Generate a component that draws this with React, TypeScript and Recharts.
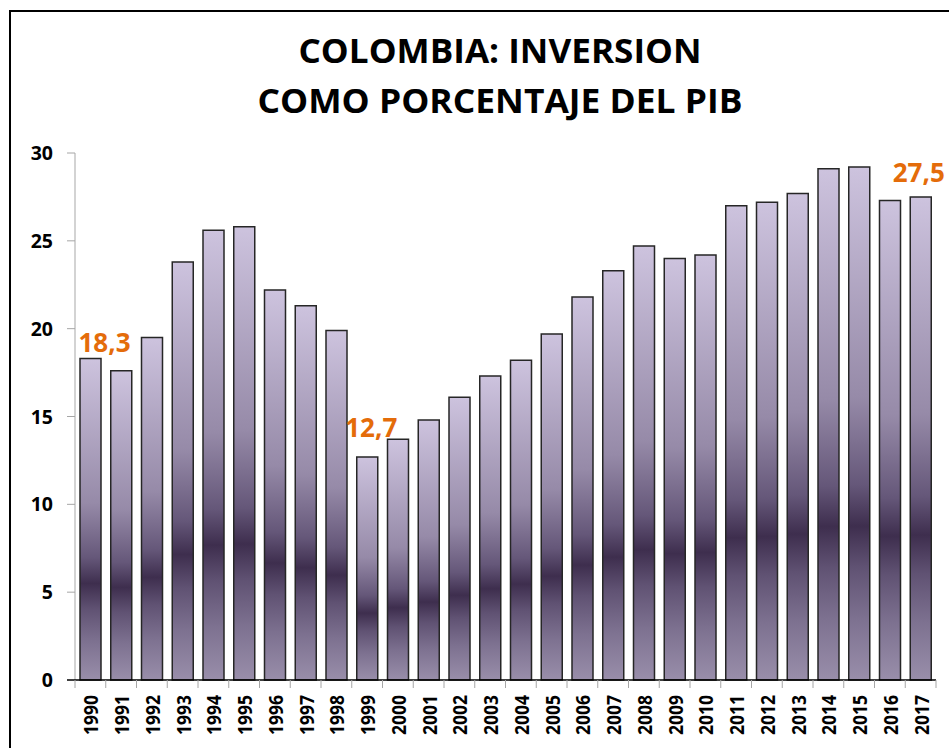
import { BarChart, Bar, XAxis, YAxis, LabelList } from 'recharts'

const years = [
  '1990', '1991', '1992', '1993', '1994', '1995', '1996', '1997', '1998', '1999',
  '2000', '2001', '2002', '2003', '2004', '2005', '2006', '2007', '2008', '2009',
  '2010', '2011', '2012', '2013', '2014', '2015', '2016', '2017',
]
const inversion = [
  18.3, 17.6, 19.5, 23.8, 25.6, 25.8, 22.2, 21.3, 19.9, 12.7,
  13.7, 14.8, 16.1, 17.3, 18.2, 19.7, 21.8, 23.3, 24.7, 24.0,
  24.2, 27.0, 27.2, 27.7, 29.1, 29.2, 27.3, 27.5,
]
const yTicks = [0, 5, 10, 15, 20, 25, 30]
const labelledYears = ['1990', '1999', '2017']

const data = years.map((y, i) => ({ year: y, valor: inversion[i] }))

const W = 949
const H = 748
const PLOT_LEFT = 75
const PLOT_RIGHT = 936
const PLOT_TOP = 153
const PLOT_BOTTOM = 680
const BAND = (PLOT_RIGHT - PLOT_LEFT) / years.length
const FONT = '"Open Sans", "Liberation Sans", sans-serif'
const ORANGE = '#E46C0A'

// nudges for the value labels (label placement in the original is hand-tuned)
const labelNudge: Record<string, [number, number]> = {
  '1990': [14, -7],
  '1999': [4, -20],
  '2017': [-2, -15],
}

const YTick = (props: any) => {
  const { y, payload } = props
  const isZero = payload.value === 0
  return (
    <g>
      <line x1={PLOT_LEFT - 8} x2={PLOT_LEFT} y1={y} y2={y}
        stroke={isZero ? '#000' : '#a6a6a6'} strokeWidth={isZero ? 1.5 : 1} />
      <text x={53} y={y} dy="0.36em" textAnchor="end" fontSize={19.5} fontWeight={700}
        fill="#000" fontFamily={FONT}>{payload.value}</text>
    </g>
  )
}

const XTick = (props: any) => {
  const { x, payload, index } = props
  const left = x - BAND / 2
  const right = x + BAND / 2
  const ty = PLOT_BOTTOM + 15
  return (
    <g>
      <line x1={left} x2={left} y1={PLOT_BOTTOM} y2={PLOT_BOTTOM + 8} stroke="#a6a6a6" />
      {index === years.length - 1 && (
        <line x1={right} x2={right} y1={PLOT_BOTTOM} y2={PLOT_BOTTOM + 8} stroke="#a6a6a6" />
      )}
      <text transform={`translate(${x + 1},${ty}) rotate(-90)`} textAnchor="end"
        dominantBaseline="central" fontSize={19} fontWeight={700} fill="#000"
        fontFamily={FONT} textLength={40} lengthAdjust="spacingAndGlyphs">
        {payload.value}
      </text>
    </g>
  )
}

const ValueLabel = (props: any) => {
  const { x, y, width, value, index } = props
  const yr = years[index]
  if (!labelledYears.includes(yr)) return null
  const [dx, dy] = labelNudge[yr] || [0, -8]
  return (
    <text x={x + width / 2 + dx} y={y + dy} textAnchor="middle" fontSize={26}
      fontWeight={700} fill={ORANGE} fontFamily={FONT}>
      {Number(value).toFixed(1).replace('.', ',')}
    </text>
  )
}

export default function App() {
  return (
    <div style={{ position: 'absolute', left: 0, top: 0, width: W, height: H, background: '#fff', fontFamily: FONT, overflow: 'hidden' }}>
      {/* marco */}
      <div style={{ position: 'absolute', left: 9, top: 10, right: -10, bottom: -10, borderTop: '2px solid #000', borderLeft: '2px solid #000' }} />

      <svg width={W} height={140} style={{ position: 'absolute', left: 0, top: 0 }}>
        <text x={500} y={63} textAnchor="middle" fontSize={34} fontWeight={700} fill="#000"
          fontFamily={FONT} textLength={403} lengthAdjust="spacingAndGlyphs">COLOMBIA: INVERSION</text>
        <text x={500} y={113} textAnchor="middle" fontSize={34} fontWeight={700} fill="#000"
          fontFamily={FONT} textLength={485} lengthAdjust="spacingAndGlyphs">COMO PORCENTAJE DEL PIB</text>
      </svg>

      <div style={{ position: 'absolute', left: 0, top: 0 }}>
        <BarChart width={W} height={H} data={data}
          margin={{ top: PLOT_TOP, right: W - PLOT_RIGHT, bottom: H - PLOT_BOTTOM - 60, left: 0 }}>
          <defs>
            <linearGradient id="barGrad" x1="0" y1="0" x2="0" y2="1">
              <stop offset="0%" stopColor="#cdc3de" />
              <stop offset="45%" stopColor="#968aa8" />
              <stop offset="62%" stopColor="#655779" />
              <stop offset="70%" stopColor="#3e2e4e" />
              <stop offset="78%" stopColor="#605273" />
              <stop offset="88%" stopColor="#7d7190" />
              <stop offset="100%" stopColor="#998eaa" />
            </linearGradient>
          </defs>
          <YAxis type="number" domain={[0, 30]} ticks={yTicks} width={PLOT_LEFT}
            axisLine={{ stroke: '#c4c4c4', strokeWidth: 1.5 }} tickLine={false}
            tick={<YTick />} interval={0} />
          <XAxis dataKey="year" interval={0} height={60} tickLine={false}
            axisLine={{ stroke: '#000', strokeWidth: 1.5 }} tick={<XTick />} />
          <Bar dataKey="valor" barSize={21} fill="url(#barGrad)" stroke="#262626"
            strokeWidth={1.5} isAnimationActive={false}>
            <LabelList dataKey="valor" content={<ValueLabel />} />
          </Bar>
        </BarChart>
      </div>
    </div>
  )
}
